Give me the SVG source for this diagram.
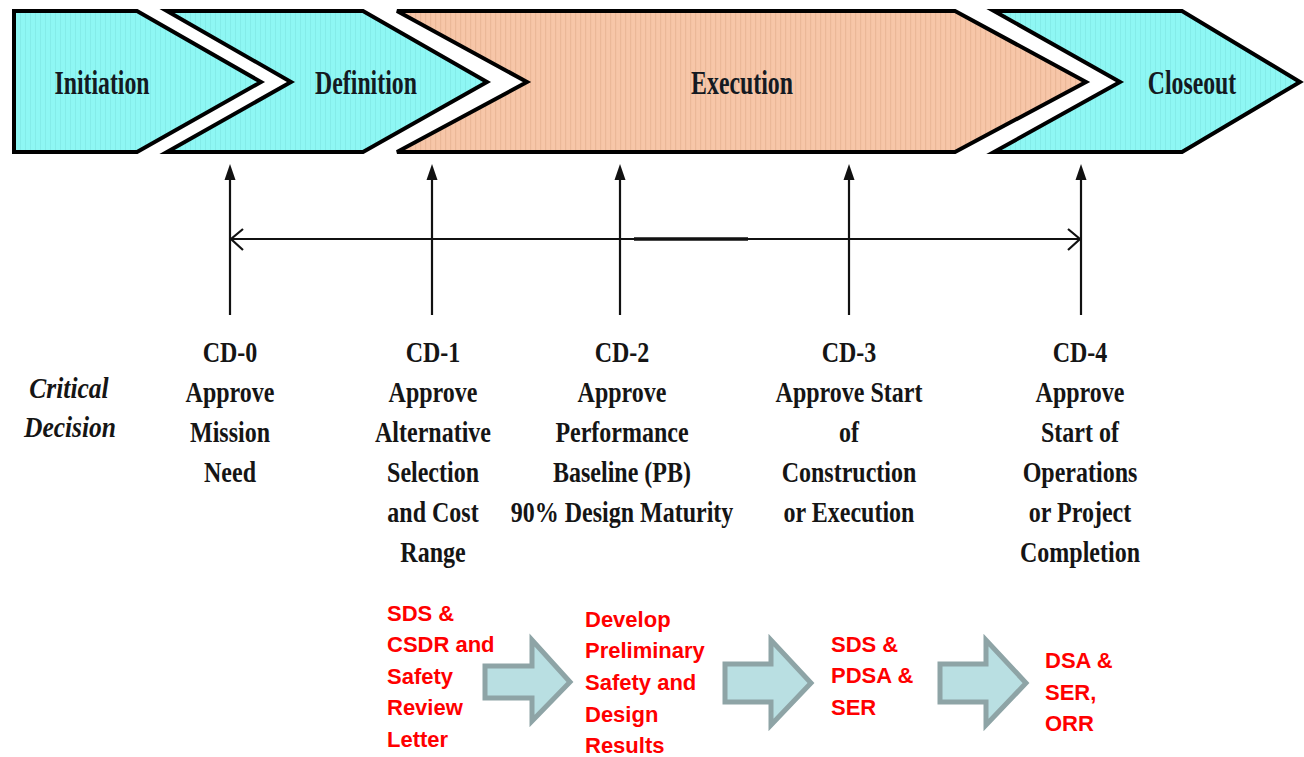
<svg xmlns="http://www.w3.org/2000/svg" width="1304" height="757" viewBox="0 0 1304 757">
<style>
.phase{stroke:#000;stroke-width:4;stroke-linejoin:miter}
.ph{font-family:"Liberation Serif","Times New Roman",serif;font-weight:bold;font-size:34px;fill:#141a22;text-anchor:middle}
.cd{font-family:"Liberation Serif","Times New Roman",serif;font-weight:bold;font-size:30px;fill:#151515;text-anchor:middle}
.crit{font-family:"Liberation Serif","Times New Roman",serif;font-weight:bold;font-style:italic;font-size:30px;fill:#151515;text-anchor:middle}
.red{font-family:"Liberation Sans",Arial,sans-serif;font-weight:bold;font-size:22px;fill:#ff0000}
.conn{stroke:#111;stroke-width:2.2;fill:none}
.blk{fill:#b9dfe2;stroke:#8ea4a6;stroke-width:5;stroke-linejoin:miter}
</style>
<defs>
<pattern id="stripeC" width="5" height="10" patternUnits="userSpaceOnUse">
<rect width="5" height="10" fill="#8ef7f4"/>
<rect width="1" height="10" fill="#84ece9"/>
</pattern>
<pattern id="stripeS" width="5" height="10" patternUnits="userSpaceOnUse">
<rect width="5" height="10" fill="#f7c6a8"/>
<rect width="1.2" height="10" fill="#ebb898"/>
</pattern>
<marker id="tri" markerWidth="12" markerHeight="12" viewBox="0 0 12 16" refX="11" refY="6" orient="auto" markerUnits="userSpaceOnUse">
<path d="M0,0 L16,6 L0,12 Z" fill="#111"/>
</marker>
</defs>
<rect width="1304" height="757" fill="#ffffff"/>

<g id="initiation">
<path class="phase" fill="url(#stripeC)" d="M14,11 H137 L261,82 L137,152 H14 Z"/>
<text class="ph" transform="translate(102,94) scale(0.7,1)">Initiation</text>
</g>
<g id="definition">
<path class="phase" fill="url(#stripeC)" d="M167,11 H363 L487,82 L363,152 H167 L291,82 Z"/>
<text class="ph" transform="translate(366,94) scale(0.7,1)">Definition</text>
</g>
<g id="execution">
<path class="phase" fill="url(#stripeS)" d="M397,11 H955 L1086,82 L955,152 H397 L527,82 Z"/>
<text class="ph" transform="translate(742,94) scale(0.7,1)">Execution</text>
</g>
<g id="closeout">
<path class="phase" fill="url(#stripeC)" d="M994,11 H1182 L1300,82 L1182,152 H994 L1120,82 Z"/>
<text class="ph" transform="translate(1192,94) scale(0.7,1)">Closeout</text>
</g>

<g id="connectors">
<g fill="#111">
<line class="conn" x1="230" y1="315" x2="230" y2="178"/>
<path d="M230,164 L235.5,180 L224.5,180 Z"/>
<line class="conn" x1="432" y1="315" x2="432" y2="178"/>
<path d="M432,164 L437.5,180 L426.5,180 Z"/>
<line class="conn" x1="620" y1="315" x2="620" y2="178"/>
<path d="M620,164 L625.5,180 L614.5,180 Z"/>
<line class="conn" x1="849" y1="315" x2="849" y2="178"/>
<path d="M849,164 L854.5,180 L843.5,180 Z"/>
<line class="conn" x1="1081" y1="315" x2="1081" y2="178"/>
<path d="M1081,164 L1086.5,180 L1075.5,180 Z"/>
</g>
<line class="conn" x1="231" y1="239" x2="1080" y2="239"/>
<line x1="634" y1="239" x2="748" y2="239" stroke="#111" stroke-width="3.5"/>
<path class="conn" d="M243,229 L231,239 L243,250"/>
<path class="conn" d="M1068,229 L1080,239 L1068,250"/>
</g>

<g id="critical-decision">
<text class="crit" transform="translate(69,398) scale(0.85,1)">Critical</text>
<text class="crit" transform="translate(70,437) scale(0.85,1)">Decision</text>
</g>

<g id="cd0" transform="translate(230,0) scale(0.8,1)">
<text class="cd" x="0" y="362">CD-0</text>
<text class="cd" x="0" y="402">Approve</text>
<text class="cd" x="0" y="442">Mission</text>
<text class="cd" x="0" y="482">Need</text>
</g>
<g id="cd1" transform="translate(433,0) scale(0.8,1)">
<text class="cd" x="0" y="362">CD-1</text>
<text class="cd" x="0" y="402">Approve</text>
<text class="cd" x="0" y="442">Alternative</text>
<text class="cd" x="0" y="482">Selection</text>
<text class="cd" x="0" y="522">and Cost</text>
<text class="cd" x="0" y="562">Range</text>
</g>
<g id="cd2" transform="translate(622,0) scale(0.8,1)">
<text class="cd" x="0" y="362">CD-2</text>
<text class="cd" x="0" y="402">Approve</text>
<text class="cd" x="0" y="442">Performance</text>
<text class="cd" x="0" y="482">Baseline (PB)</text>
<text class="cd" x="0" y="522">90% Design Maturity</text>
</g>
<g id="cd3" transform="translate(849,0) scale(0.8,1)">
<text class="cd" x="0" y="362">CD-3</text>
<text class="cd" x="0" y="402">Approve Start</text>
<text class="cd" x="0" y="442">of</text>
<text class="cd" x="0" y="482">Construction</text>
<text class="cd" x="0" y="522">or Execution</text>
</g>
<g id="cd4" transform="translate(1080,0) scale(0.8,1)">
<text class="cd" x="0" y="362">CD-4</text>
<text class="cd" x="0" y="402">Approve</text>
<text class="cd" x="0" y="442">Start of</text>
<text class="cd" x="0" y="482">Operations</text>
<text class="cd" x="0" y="522">or Project</text>
<text class="cd" x="0" y="562">Completion</text>
</g>

<g id="step1">
<text class="red" x="387" y="621">SDS &amp;</text>
<text class="red" x="387" y="652">CSDR and</text>
<text class="red" x="387" y="684">Safety</text>
<text class="red" x="387" y="715">Review</text>
<text class="red" x="387" y="747">Letter</text>
</g>
<g id="block-arrow-1">
<path class="blk" d="M485,666 H532 V640 L570,682 L532,721 V698 H485 Z"/>
</g>
<g id="step2">
<text class="red" x="585" y="627">Develop</text>
<text class="red" x="585" y="658">Preliminary</text>
<text class="red" x="585" y="690">Safety and</text>
<text class="red" x="585" y="722">Design</text>
<text class="red" x="585" y="753">Results</text>
</g>
<g id="block-arrow-2">
<path class="blk" d="M725,664 H771 V640 L811,683 L771,725 V702 H725 Z"/>
</g>
<g id="step3">
<text class="red" x="831" y="652">SDS &amp;</text>
<text class="red" x="831" y="683">PDSA &amp;</text>
<text class="red" x="831" y="715">SER</text>
</g>
<g id="block-arrow-3">
<path class="blk" d="M940,664 H986 V640 L1026,683 L986,725 V702 H940 Z"/>
</g>
<g id="step4">
<text class="red" x="1045" y="668">DSA &amp;</text>
<text class="red" x="1045" y="700">SER,</text>
<text class="red" x="1045" y="731">ORR</text>
</g>
</svg>
